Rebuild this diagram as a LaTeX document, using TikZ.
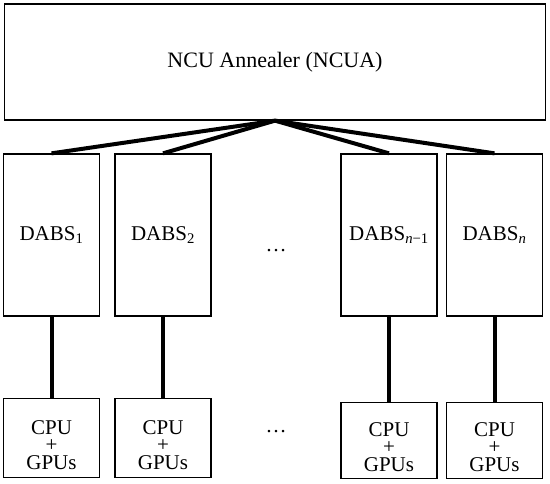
\documentclass[tikz,border=0pt]{standalone}
\usepackage{fontspec}
\setmainfont{Liberation Serif}
\usetikzlibrary{positioning}

\begin{document}
\begin{tikzpicture}[x=1pt,y=-1pt,
    box/.style={draw, line width=1.3pt, inner sep=0pt, font=\fontsize{21}{24}\selectfont},
    dabsbox/.style={box, minimum width=96pt, minimum height=162pt},
    cpubox/.style={box, minimum width=96pt, align=center,
      font=\fontsize{21}{17.5}\selectfont, text height=71pt, text depth=8pt},
    link/.style={line width=4pt}]
  \useasboundingbox (0,0) rectangle (550,484);
  % Annealer on top
  \node[box, minimum width=541pt, minimum height=116pt, font=\fontsize{22}{26}\selectfont]
    (ncua) at (275,62) {NCU Annealer (NCUA)};
  % DABS row
  \node[dabsbox] (dabs1) at (51.5,235) {DABS\textsubscript{1}};
  \node[dabsbox] (dabs2) at (163,235) {DABS\textsubscript{2}};
  \node[dabsbox] (dabs3) at (389,235) {DABS\textsubscript{\textit{n}−1}};
  \node[dabsbox] (dabs4) at (494.5,235) {DABS\textsubscript{\textit{n}}};
  \node[font=\fontsize{21}{24}\selectfont, anchor=base] (dotsa) at (276,252) {\dots};
  % CPU + GPU row
  \node[cpubox, anchor=south] (cpu1) at (51.5,478) {CPU\\+\\GPUs};
  \node[cpubox, anchor=south] (cpu2) at (163,478) {CPU\\+\\GPUs};
  \node[cpubox, anchor=south, text height=69pt, text depth=7pt] (cpu3) at (389,479) {CPU\\+\\GPUs};
  \node[cpubox, anchor=south, text height=69pt, text depth=7pt] (cpu4) at (494.5,479) {CPU\\+\\GPUs};
  \node[font=\fontsize{21}{24}\selectfont, anchor=base] (dotsb) at (276,433) {\dots};
  % links
  \foreach \i in {1,...,4} {
    \draw[link] (ncua.south) -- (dabs\i.north);
    \draw[link] (dabs\i.south) -- (cpu\i.north);
  }
\end{tikzpicture}
\end{document}
